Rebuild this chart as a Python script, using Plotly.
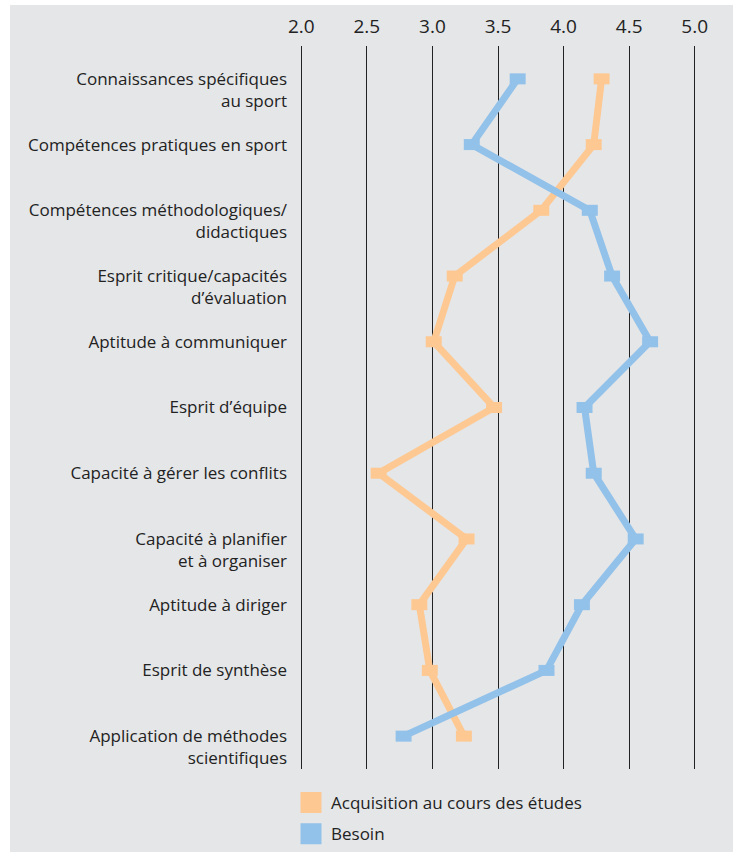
import plotly.graph_objects as go

categories = [
    "Connaissances spécifiques au sport",
    "Compétences pratiques en sport",
    "Compétences méthodologiques/didactiques",
    "Esprit critique/capacités d’évaluation",
    "Aptitude à communiquer",
    "Esprit d’équipe",
    "Capacité à gérer les conflits",
    "Capacité à planifier et à organiser",
    "Aptitude à diriger",
    "Esprit de synthèse",
    "Application de méthodes scientifiques",
]
tick_labels = [
    " <br>Connaissances spécifiques<br>au sport",
    "Compétences pratiques en sport",
    " <br>Compétences méthodologiques/<br>didactiques",
    " <br>Esprit critique/capacités<br>d’évaluation",
    "Aptitude à communiquer",
    "Esprit d’équipe",
    "Capacité à gérer les conflits",
    " <br>Capacité à planifier<br>et à organiser",
    "Aptitude à diriger",
    "Esprit de synthèse",
    " <br>Application de méthodes<br>scientifiques",
]
acquisition = [4.29, 4.23, 3.83, 3.17, 3.01, 3.47, 2.59, 3.26, 2.90, 2.98, 3.24]
besoin = [3.65, 3.30, 4.20, 4.37, 4.66, 4.16, 4.23, 4.55, 4.14, 3.87, 2.78]
x_ticks = [2.0, 2.5, 3.0, 3.5, 4.0, 4.5, 5.0]

ORANGE = "#FDC892"
BLUE = "#92C1E9"
BG = "#E5E6E8"
TXT = "#222222"
FONT = "Open Sans"

W, H = 733, 852
ML, MR, MT, MB = 300, 37, 46, 83
PW, PH = W - ML - MR, H - MT - MB

fig = go.Figure()
for name, vals, col in [("Acquisition au cours des études", acquisition, ORANGE),
                        ("Besoin", besoin, BLUE)]:
    fig.add_trace(go.Scatter(
        x=vals, y=categories, mode="lines+markers", showlegend=False,
        line=dict(color=col, width=7),
        marker=dict(symbol="line-ew", size=11.4, color=col,
                    line=dict(color=col, width=11)),
        hoverinfo="x+y", name=name,
    ))
for i, (name, col) in enumerate([("Acquisition au cours des études", ORANGE),
                                 ("Besoin", BLUE)]):
    fig.add_trace(go.Scatter(
        x=[None], y=[None], mode="markers", name=name, legendgroup=f"g{i}",
        marker=dict(symbol="square", size=16, color=col,
                    line=dict(color=col, width=5)),
    ))

def px_x(p):
    return (p - ML) / PW

def px_y(p):
    return (H - MB - p) / PH

fig.add_shape(type="rect", xref="paper", yref="paper",
              x0=px_x(10), x1=px_x(W + 5), y0=px_y(H + 5), y1=px_y(5),
              fillcolor=BG, line=dict(width=0), layer="below")

fig.update_layout(
    width=W, height=H,
    margin=dict(l=ML, r=MR, t=MT, b=MB, autoexpand=False),
    paper_bgcolor="white",
    plot_bgcolor="rgba(0,0,0,0)",
    font=dict(family=FONT, color=TXT, size=17),
    xaxis=dict(
        range=[1.99, 5.01], side="top", tickvals=x_ticks,
        ticktext=[f"{v:.1f}" for v in x_ticks],
        showgrid=True, gridcolor="#222222", gridwidth=1,
        zeroline=False, showline=False, ticks="",
        ticklabelstandoff=8,
        tickfont=dict(size=19, color=TXT, family=FONT),
        fixedrange=True,
    ),
    yaxis=dict(
        type="category", categoryorder="array", categoryarray=categories,
        range=[10.5, -0.5], tickvals=categories, ticktext=tick_labels,
        showgrid=False, zeroline=False, showline=False, ticks="",
        ticklabelstandoff=12,
        tickfont=dict(size=17, color=TXT, family=FONT),
        fixedrange=True,
    ),
    legend=dict(
        x=px_x(291), y=px_y(785), xanchor="left", yanchor="top",
        bgcolor="rgba(0,0,0,0)", traceorder="grouped", tracegroupgap=6,
        font=dict(size=17, color=TXT, family=FONT),
        itemclick=False, itemdoubleclick=False,
    ),
)

fig.write_html("out.html",
               config={"displayModeBar": False},
               post_script="document.body.style.margin='0';")
